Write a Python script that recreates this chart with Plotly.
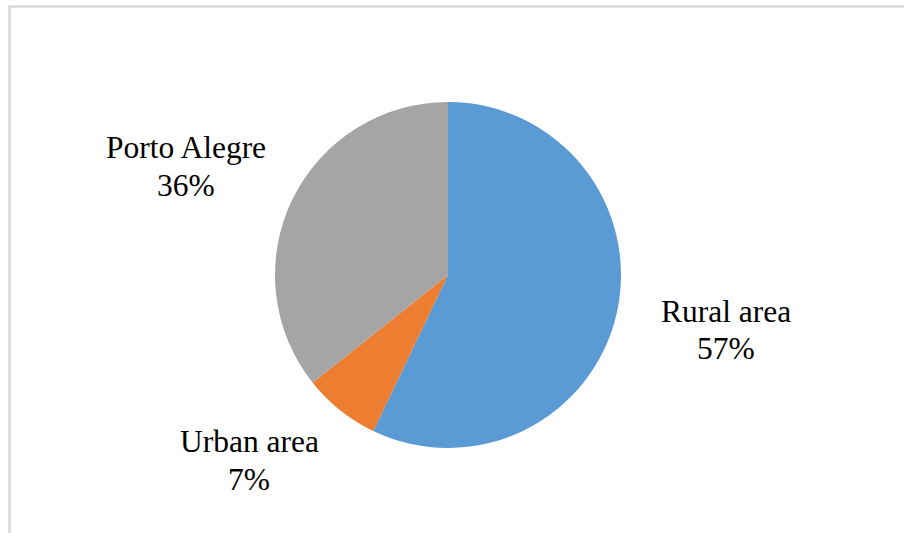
import plotly.graph_objects as go

# Data
labels = ["Rural area", "Urban area", "Porto Alegre"]
values = [57.1, 7.2, 35.7]
colors = ["#5B9BD5", "#ED7D31", "#A5A5A5"]

W, H = 904, 533
total = sum(values)
pcts = [f"{round(v / total * 100)}%" for v in values]

fig = go.Figure()
fig.add_trace(go.Pie(
    labels=labels, values=values, sort=False, direction="clockwise", rotation=0,
    marker=dict(colors=colors, line=dict(width=0)),
    textinfo="none", hoverinfo="label+percent", showlegend=False,
    domain=dict(x=[(448 - 173) / W, (448 + 173) / W], y=[(H - 275 - 173) / H, (H - 275 + 173) / H]),
))

# label positions (pixel centers of each text line: name, percent)
label_pos = [
    (726, 321, 358),   # Rural area
    (249, 451, 489),   # Urban area
    (186, 157, 195),   # Porto Alegre
]
font = dict(family="Liberation Serif, Times New Roman, serif", size=31.5, color="#000000")
annots = []
for name, pct, (cx, b1, b2) in zip(labels, pcts, label_pos):
    for txt, base in ((name, b1), (pct, b2)):
        annots.append(dict(
            x=cx / W, y=1 - (base - 10) / H, xref="paper", yref="paper",
            text=txt, showarrow=False, xanchor="center", yanchor="middle", font=font,
        ))

fig.update_layout(
    width=W, height=H, margin=dict(l=0, r=0, t=0, b=0),
    paper_bgcolor="white", plot_bgcolor="white",
    annotations=annots,
    shapes=[dict(type="rect", xref="paper", yref="paper",
                 x0=9.5 / W, x1=1.05, y0=-0.05, y1=1 - 6.5 / H,
                 line=dict(color="#D9D9D9", width=2.5), fillcolor="rgba(0,0,0,0)")],
)
fig.write_html("out.html", config={"displayModeBar": False})

# remove default page margin so the figure fills the window
with open("out.html", "r", encoding="utf-8") as f:
    html = f.read()
html = html.replace("<head>", "<head><style>html,body{margin:0;padding:0;overflow:hidden;}</style>", 1)
with open("out.html", "w", encoding="utf-8") as f:
    f.write(html)
